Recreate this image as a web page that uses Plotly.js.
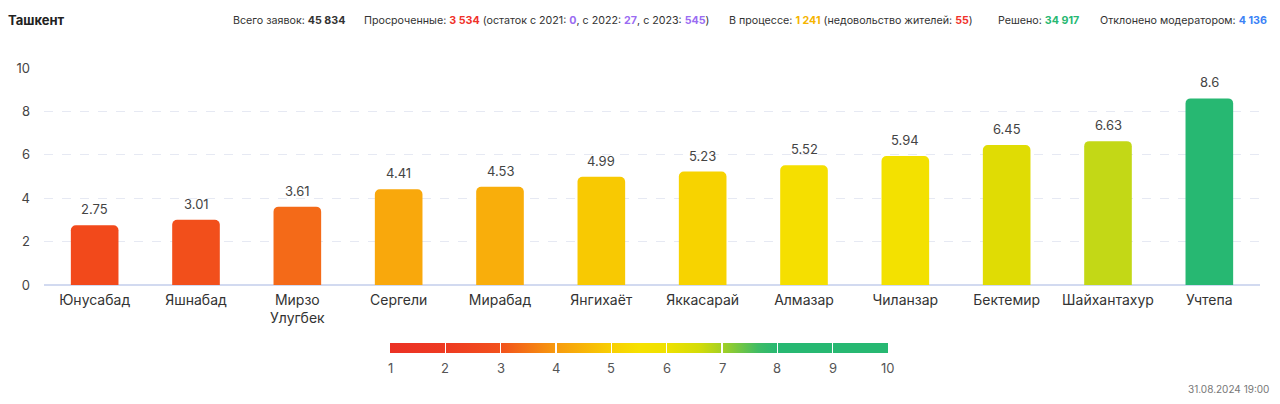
<!DOCTYPE html>
<html>
<head>
<meta charset="utf-8">
<script src="https://cdn.plot.ly/plotly-3.0.1.min.js"></script>
<style>
  html, body { margin: 0; padding: 0; background: #fff; }
  #chart { width: 1280px; height: 404px; }
</style>
</head>
<body>
<div id="chart"></div>
<script>
const districts = ["Юнусабад", "Яшнабад", "Мирзо<br>Улугбек", "Сергели", "Мирабад", "Янгихаёт", "Яккасарай", "Алмазар", "Чиланзар", "Бектемир", "Шайхантахур", "Учтепа"];
const ratings = [2.75, 3.01, 3.61, 4.41, 4.53, 4.99, 5.23, 5.52, 5.94, 6.45, 6.63, 8.6];
const barColors = ["#f2491b", "#f24f1b", "#f46a18", "#f9a80c", "#f9ae0b", "#f8c902", "#f7d300", "#f5df00", "#f3e100", "#e0dc04", "#c3d816", "#27b872"];
const scaleStops = [[0, "#eb3124"], [0.111, "#ee3a22"], [0.222, "#f2511c"], [0.333, "#f79a0e"], [0.444, "#f8cf02"], [0.5, "#f6e100"], [0.555, "#efe100"], [0.62, "#d4dc08"], [0.667, "#a4d024"], [0.74, "#3ebc66"], [0.778, "#27b872"], [1, "#27b872"]];
const yTicks = [0, 2, 4, 6, 8, 10];
const scaleTicks = [1, 2, 3, 4, 5, 6, 7, 8, 9, 10];

const W = 1280, H = 404;
const M = {l: 44, r: 20, t: 68, b: 119};
const pw = W - M.l - M.r, ph = H - M.t - M.b;
const px = x => (x - M.l) / pw;
const py = y => (H - M.b - y) / ph;

const FONT = "Inter, 'Noto Sans', sans-serif";

// colour-scale bar geometry (pixels)
const CB = {x0: 390, x1: 888, top: 343, bottom: 353, label: 368};
const sMin = scaleTicks[0], sMax = scaleTicks[scaleTicks.length - 1];

const barTrace = {
  type: "bar",
  x: districts,
  y: ratings,
  marker: {color: barColors, cornerradius: 5, line: {width: 0}},
  hoverinfo: "x+y",
  showlegend: false
};

const scaleTrace = {
  type: "scatter",
  mode: "markers",
  x: districts,
  y: ratings,
  marker: {
    size: 0.1, opacity: 0,
    color: ratings, cmin: sMin, cmax: sMax,
    colorscale: scaleStops,
    showscale: true,
    colorbar: {
      orientation: "h",
      x: px((CB.x0 + CB.x1) / 2), xanchor: "center",
      y: py(CB.top), yanchor: "top",
      lenmode: "pixels", len: CB.x1 - CB.x0,
      thickness: CB.bottom - CB.top,
      thicknessmode: "pixels",
      outlinewidth: 0,
      xpad: 0, ypad: 0,
      tickmode: "array",
      tickvals: scaleTicks.slice(1, -1),
      ticks: "inside",
      ticklen: CB.bottom - CB.top,
      tickwidth: 1.5,
      tickcolor: "#ffffff",
      showticklabels: false
    }
  },
  hoverinfo: "skip",
  showlegend: false
};

const annotations = [];
districts.forEach((d, i) => {
  annotations.push({
    x: d, y: ratings[i], xref: "x", yref: "y",
    text: String(ratings[i]),
    showarrow: false, yanchor: "bottom", yshift: 6,
    font: {family: FONT, size: 13, color: "#444"}
  });
});

// colour-scale labels
scaleTicks.forEach(v => {
  const xp = CB.x0 + (v - sMin) / (sMax - sMin) * (CB.x1 - CB.x0);
  annotations.push({
    xref: "paper", yref: "paper", x: px(xp), y: py(CB.label),
    xanchor: "center", yanchor: "middle", showarrow: false,
    text: String(v),
    font: {family: FONT, size: 13, color: "#555"}
  });
});

const headerItems = [
  {x: 231, text: "Всего заявок: <b>45 834</b>"},
  {x: 362, text: "Просроченные: <b><span style='color:#f0312a'>3 534</span></b> (остаток с 2021: <b><span style='color:#9a6cf2'>0</span></b>, с 2022: <b><span style='color:#9a6cf2'>27</span></b>, с 2023: <b><span style='color:#9a6cf2'>545</span></b>)"},
  {x: 727, text: "В процессе: <b><span style='color:#f5b400'>1 241</span></b> (недовольство жителей: <b><span style='color:#f0312a'>55</span></b>)"},
  {x: 996, text: "Решено: <b><span style='color:#27b872'>34 917</span></b>"},
  {x: 1098, text: "Отклонено модератором: <b><span style='color:#3b82f6'>4 136</span></b>"}
];
headerItems.forEach(h => {
  annotations.push({
    xref: "paper", yref: "paper", x: px(h.x), y: py(20),
    xanchor: "left", yanchor: "middle", showarrow: false,
    text: h.text,
    font: {family: FONT, size: 10.7, color: "#333"}
  });
});
annotations.push({
  xref: "paper", yref: "paper", x: px(6), y: py(20),
  xanchor: "left", yanchor: "middle", showarrow: false,
  text: "<b>Ташкент</b>",
  font: {family: FONT, size: 13, color: "#222"}
});
annotations.push({
  xref: "paper", yref: "paper", x: px(1271), y: py(389),
  xanchor: "right", yanchor: "middle", showarrow: false,
  text: "31.08.2024 19:00",
  font: {family: FONT, size: 10, color: "#777"}
});

const layout = {
  width: W, height: H,
  margin: M,
  paper_bgcolor: "#fff",
  plot_bgcolor: "#fff",
  bargap: 0.53,
  font: {family: FONT},
  xaxis: {
    type: "category",
    range: [-0.5, districts.length - 0.5],
    showgrid: false,
    showline: false,
    zeroline: false,
    ticks: "",
    ticklabelstandoff: 5,
    tickfont: {family: FONT, size: 14, color: "#333"},
    fixedrange: true
  },
  yaxis: {
    range: [0, 10],
    tickvals: yTicks,
    ticktext: yTicks.map(String),
    showgrid: true,
    gridcolor: "#e6e9f3",
    griddash: "dash",
    gridwidth: 1,
    zeroline: true,
    zerolinecolor: "#d2daf0",
    zerolinewidth: 1.5,
    showline: false,
    ticks: "",
    ticklabelstandoff: 13,
    tickfont: {family: FONT, size: 13, color: "#444"},
    fixedrange: true
  },
  annotations: annotations,
  showlegend: false
};

Plotly.newPlot("chart", [barTrace, scaleTrace], layout, {displayModeBar: false, staticPlot: true});
</script>
</body>
</html>
